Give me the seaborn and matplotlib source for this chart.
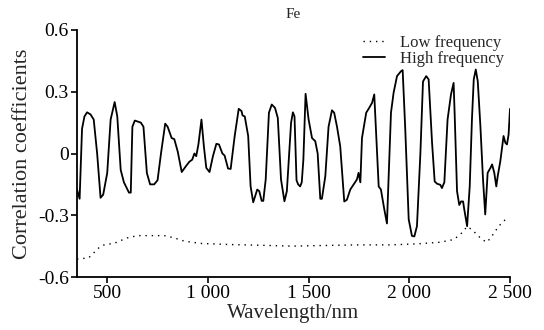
import numpy as np
import pandas as pd
import matplotlib
matplotlib.use("Agg")
import matplotlib.pyplot as plt
import seaborn as sns

# ── data ──
high_wl = [350, 363, 375, 387, 400, 417, 433, 450, 467, 480, 500, 517, 537, 550, 567, 583,
           608, 617, 625, 637, 667, 680, 697, 713, 733, 750, 767, 788, 800, 820, 833, 850,
           870, 892, 908, 922, 933, 942, 953, 968, 980, 992, 1008, 1025, 1042, 1055, 1072,
           1083, 1100, 1113, 1133, 1153, 1167, 1172, 1183, 1200, 1212, 1225, 1245, 1255,
           1267, 1275, 1287, 1303, 1317, 1333, 1347, 1363, 1380, 1392, 1413, 1422, 1430,
           1440, 1448, 1458, 1466, 1474, 1485, 1500, 1517, 1533, 1545, 1558, 1566, 1583,
           1599, 1616, 1627, 1641, 1657, 1677, 1690, 1707, 1724, 1740, 1748, 1757, 1765,
           1786, 1801, 1815, 1826, 1848, 1859, 1876, 1889, 1909, 1922, 1939, 1959, 1967,
           1980, 1997, 2013, 2025, 2038, 2055, 2068, 2084, 2096, 2113, 2126, 2138, 2154,
           2162, 2174, 2190, 2207, 2220, 2225, 2237, 2248, 2257, 2267, 2273, 2287, 2300,
           2311, 2320, 2330, 2340, 2353, 2366, 2377, 2389, 2403, 2411, 2422, 2432, 2439,
           2452, 2468, 2477, 2485, 2493, 2500]
high_r = [-0.175, -0.22, 0.12, 0.18, 0.20, 0.19, 0.165, 0.0, -0.215, -0.20, -0.095, 0.165,
          0.25, 0.18, -0.08, -0.14, -0.19, -0.19, 0.13, 0.16, 0.15, 0.13, -0.095, -0.15,
          -0.15, -0.13, 0.0, 0.145, 0.13, 0.075, 0.07, 0.01, -0.09, -0.06, -0.04, -0.03,
          0.0, -0.013, 0.045, 0.165, 0.035, -0.07, -0.09, -0.013, 0.047, 0.044, 0.0, -0.01,
          -0.073, -0.075, 0.085, 0.217, 0.206, 0.185, 0.18, 0.085, -0.16, -0.237, -0.175,
          -0.183, -0.23, -0.23, -0.126, 0.198, 0.238, 0.222, 0.173, -0.126, -0.232, -0.183,
          0.15, 0.2, 0.18, -0.13, -0.15, -0.16, -0.14, -0.03, 0.29, 0.165, 0.075, 0.06, 0.0,
          -0.22, -0.22, -0.11, 0.13, 0.21, 0.198, 0.13, 0.035, -0.233, -0.225, -0.175, -0.15,
          -0.126, -0.094, -0.14, 0.075, 0.198, 0.222, 0.246, 0.287, -0.16, -0.175, -0.272,
          -0.34, 0.198, 0.295, 0.376, 0.40, 0.405, 0.117, -0.32, -0.40, -0.403, -0.353, 0.0,
          0.35, 0.376, 0.36, 0.052, -0.136, -0.147, -0.152, -0.168, -0.14, 0.165, 0.287,
          0.343, 0.198, -0.183, -0.25, -0.233, -0.233, -0.272, -0.353, -0.16, 0.165, 0.36,
          0.408, 0.35, 0.133, -0.126, -0.296, -0.094, -0.07, -0.053, -0.094, -0.16, -0.11,
          -0.037, 0.085, 0.052, 0.044, 0.092, 0.217]

low_wl = [350, 408, 433, 467, 492, 533, 567, 600, 650, 717, 783, 833, 883, 967, 1100, 1267,
          1420, 1575, 1740, 1906, 2038, 2154, 2220, 2253, 2287, 2311, 2336, 2361, 2386, 2411,
          2444, 2485]
low_r = [-0.513, -0.507, -0.483, -0.45, -0.442, -0.437, -0.423, -0.41, -0.399, -0.399,
         -0.399, -0.41, -0.426, -0.437, -0.442, -0.446, -0.45, -0.447, -0.444, -0.444,
         -0.439, -0.431, -0.418, -0.394, -0.355, -0.37, -0.394, -0.418, -0.431, -0.40,
         -0.353, -0.313]

x_ticks = [500, 1000, 1500, 2000, 2500]
x_labels = ["500", "1 000", "1 500", "2 000", "2 500"]
y_ticks = [-0.6, -0.3, 0, 0.3, 0.6]
y_labels = ["-0.6", "-0.3", "0", "0.3", "0.6"]

sns.set_style("ticks")
plt.rcParams["font.family"] = ["Liberation Serif", "DejaVu Serif"]

high = pd.DataFrame({"Wavelength": high_wl, "r": high_r})
low = pd.DataFrame({"Wavelength": low_wl, "r": low_r})

fig = plt.figure(figsize=(5.44, 3.30), dpi=100)
ax = fig.add_axes([77 / 544, 1 - 277 / 330, (510 - 77) / 544, (277 - 30) / 330])

sns.lineplot(data=low, x="Wavelength", y="r", ax=ax, color="black", linewidth=1.0,
             linestyle=(0, (1, 3.5)), estimator=None, sort=False, label="Low frequency")
sns.lineplot(data=high, x="Wavelength", y="r", ax=ax, color="black", linewidth=1.3,
             estimator=None, sort=False, label="High frequency")

ax.set_xlim(350, 2500)
ax.set_ylim(-0.6, 0.6)
ax.set_xticks(x_ticks)
ax.set_xticklabels(x_labels)
ax.set_yticks(y_ticks)
ax.set_yticklabels(y_labels)
ax.tick_params(labelsize=14, length=4, width=1.2, colors="black", pad=2)
for s in ["left", "bottom"]:
    ax.spines[s].set_linewidth(1.3)
    ax.spines[s].set_color("black")
sns.despine(ax=ax)

ax.set_xlabel("Wavelength/nm", fontsize=15, labelpad=1)
ax.set_ylabel("Correlation coefficients", fontsize=16, labelpad=4)
ax.set_title("Fe", fontsize=11, pad=9)

ax.legend(loc="upper right", bbox_to_anchor=(1.02, 1.04), frameon=False, fontsize=12,
          handlelength=1.3, handletextpad=0.9, labelspacing=0.0)

plt.savefig("out.png", dpi=100)
plt.close()
